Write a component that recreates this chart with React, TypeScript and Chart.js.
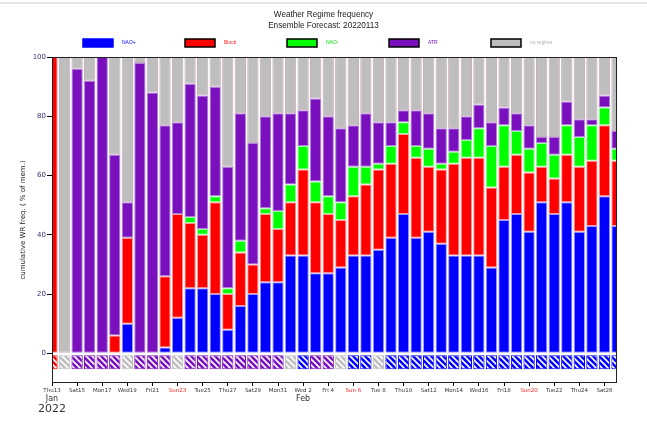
import React, { useEffect, useRef } from 'react';
import { Chart, registerables } from 'chart.js';

Chart.register(...registerables);

const titleLines = ['Weather Regime frequency', 'Ensemble Forecast: 20220113'];
const regimeNames = ['NAO+', 'Block', 'NAO-', 'ATR', 'no regime'];
const regimeColors = ['#0000ff', '#ff0000', '#00ff00', '#7a0fbe', '#bebebe'];
const regimeEdgeColors = ['#9a9aff', '#ff9a9a', '#a0ffa0', '#b080de', '#c9abb9'];
const legendTextColors = ['#0000ff', '#ff2020', '#00dd00', '#7a0fbe', '#b0b0b0'];

const dayLabels = [
  'Thu13', 'Fri14', 'Sat15', 'Sun16', 'Mon17', 'Tue18', 'Wed19', 'Thu20', 'Fri21', 'Sat22',
  'Sun23', 'Mon24', 'Tue25', 'Wed26', 'Thu27', 'Fri28', 'Sat29', 'Sun30', 'Mon31',
  'Tue 1', 'Wed 2', 'Thu 3', 'Fri 4', 'Sat 5', 'Sun 6', 'Mon 7', 'Tue 8', 'Wed 9', 'Thu10',
  'Fri11', 'Sat12', 'Sun13', 'Mon14', 'Tue15', 'Wed16', 'Thu17', 'Fri18', 'Sat19', 'Sun20',
  'Mon21', 'Tue22', 'Wed23', 'Thu24', 'Fri25', 'Sat26', 'Sun27',
];
const xTickLabels = [
  'Thu13', 'Sat15', 'Mon17', 'Wed19', 'Fri21', 'Sun23', 'Tue25', 'Thu27', 'Sat29', 'Mon31',
  'Wed 2', 'Fri 4', 'Sun 6', 'Tue 8', 'Thu10', 'Sat12', 'Mon14', 'Wed16', 'Fri18', 'Sun20',
  'Tue22', 'Thu24', 'Sat26',
];
const monthNames = ['Jan', 'Feb'];
const monthStartDays = [0, 20];
const yearText = '2022';
const yTicks = [0, 20, 40, 60, 80, 100];
const yAxisTitle = 'cumulative WR freq. ( % of mem.)';

// regime frequencies (% of members) per day, Jan 13 .. Feb 27
const naoPlus = [0, 0, 0, 0, 0, 0, 10, 0, 0, 2, 12, 22, 22, 20, 8, 16, 20, 24, 24, 33, 33, 27, 27, 29, 33, 33, 35, 39, 47, 39, 41, 37, 33, 33, 33, 29, 45, 47, 41, 51, 47, 51, 41, 43, 53, 43];
const block = [100, 0, 0, 0, 0, 6, 29, 0, 0, 24, 35, 22, 18, 31, 12, 18, 10, 23, 18, 18, 29, 24, 20, 16, 20, 24, 27, 25, 27, 27, 22, 25, 31, 33, 33, 27, 18, 20, 20, 12, 12, 16, 22, 22, 24, 22];
const naoMinus = [0, 0, 0, 0, 0, 0, 0, 0, 0, 0, 0, 2, 2, 2, 2, 4, 0, 2, 6, 6, 8, 7, 6, 6, 10, 6, 2, 6, 4, 4, 6, 2, 4, 6, 10, 14, 14, 8, 8, 8, 8, 10, 10, 12, 6, 4];
const atr = [0, 0, 96, 92, 100, 61, 12, 98, 88, 51, 31, 45, 45, 37, 41, 43, 41, 31, 33, 24, 12, 28, 27, 25, 14, 18, 14, 8, 4, 12, 12, 12, 8, 8, 8, 8, 6, 6, 8, 2, 6, 8, 6, 2, 4, 6];
const noRegime = [0, 100, 4, 8, 0, 33, 49, 2, 12, 23, 22, 9, 13, 10, 37, 19, 29, 20, 19, 19, 18, 14, 20, 24, 23, 19, 22, 22, 18, 18, 19, 24, 24, 20, 16, 22, 17, 19, 23, 27, 27, 15, 21, 21, 13, 25];
// hatched strip: index into regimeNames
const stripRegime = [1, 4, 3, 3, 3, 3, 4, 3, 3, 3, 4, 3, 3, 3, 3, 3, 3, 3, 3, 4, 0, 3, 3, 4, 0, 0, 4, 0, 0, 0, 0, 0, 0, 0, 0, 0, 0, 0, 0, 0, 0, 0, 0, 0, 0, 0];

const STRIP_TOP = -0.6;
const STRIP_BOTTOM = -5.4;

function makeHatch(color: string): CanvasPattern | string {
  const c = document.createElement('canvas');
  c.width = 6;
  c.height = 6;
  const g = c.getContext('2d');
  if (!g) return color;
  g.fillStyle = color;
  g.fillRect(0, 0, 6, 6);
  g.strokeStyle = '#ffffff';
  g.lineWidth = 1.6;
  g.beginPath();
  g.moveTo(-1, -1); g.lineTo(7, 7);
  g.moveTo(-1, 5); g.lineTo(1, 7);
  g.moveTo(5, -1); g.lineTo(7, 1);
  g.stroke();
  return g.createPattern(c, 'repeat') || color;
}

const decorPlugin = {
  id: 'decor',
  beforeDraw(chart: any) {
    const ctx = chart.ctx;
    ctx.save();
    ctx.fillStyle = '#ffffff';
    ctx.fillRect(0, 0, chart.width, chart.height);
    ctx.fillStyle = '#e6e6e6';
    ctx.fillRect(0, 2, chart.width, 2);
    ctx.restore();
  },
  afterDraw(chart: any) {
    const { ctx, chartArea: a } = chart;
    const xs = chart.scales.x;
    ctx.save();
    // frame
    ctx.strokeStyle = '#222222';
    ctx.lineWidth = 1;
    ctx.strokeRect(Math.round(a.left) + 0.5, Math.round(a.top) + 0.5, Math.round(a.right - a.left) - 1, Math.round(a.bottom - a.top) - 1);
    // title (slightly condensed face)
    ctx.fillStyle = '#222222';
    ctx.textAlign = 'center';
    ctx.textBaseline = 'middle';
    ctx.font = '9.5px "Liberation Sans", Arial, sans-serif';
    for (let k = 0; k < titleLines.length; k++) {
      ctx.save();
      ctx.translate(chart.width / 2, 14 + 11 * k);
      ctx.scale(0.86, 1);
      ctx.fillText(titleLines[k], 0, 0);
      ctx.restore();
    }
    // legend
    for (let i = 0; i < regimeNames.length; i++) {
      const bx = 83 + 102 * i;
      const by = 39;
      ctx.fillStyle = regimeColors[i];
      ctx.fillRect(bx, by, 30, 8);
      ctx.lineWidth = 1.5;
      ctx.strokeStyle = i === 0 ? regimeColors[0] : '#000000';
      ctx.strokeRect(bx, by, 30, 8);
      ctx.fillStyle = legendTextColors[i];
      ctx.textAlign = 'left';
      ctx.font = '5px "Liberation Sans", Arial, sans-serif';
      ctx.fillText(regimeNames[i], bx + 39, by + 4);
    }
    // months and year
    ctx.fillStyle = '#333333';
    ctx.textAlign = 'center';
    ctx.font = '8px "DejaVu Sans", sans-serif';
    for (let k = 0; k < monthNames.length; k++) {
      ctx.fillText(monthNames[k], xs.getPixelForValue(monthStartDays[k]), a.bottom + 16);
    }
    ctx.font = '11px "DejaVu Sans", sans-serif';
    ctx.fillText(yearText, xs.getPixelForValue(0), a.bottom + 26);
    ctx.restore();
  },
};

export default function App() {
  const ref = useRef<HTMLCanvasElement | null>(null);

  useEffect(() => {
    if (!ref.current) return;
    const series = [naoPlus, block, naoMinus, atr, noRegime];
    const datasets: any[] = series.map((vals, k) => ({
      label: regimeNames[k],
      data: vals.map((v, i) => {
        let start = 0;
        for (let j = 0; j < k; j++) start += series[j][i];
        return v > 0 ? { x: i, y: [start, start + v] } : { x: i, y: null };
      }),
      backgroundColor: regimeColors[k],
      borderColor: regimeEdgeColors[k],
      borderWidth: 1,
      borderSkipped: false,
      grouped: false,
      barPercentage: 0.9,
      categoryPercentage: 1,
    }));
    const patterns = regimeColors.map((c) => makeHatch(c));
    datasets.push({
      label: 'strip',
      data: stripRegime.map((_, i) => ({ x: i, y: [STRIP_TOP, STRIP_BOTTOM] })),
      backgroundColor: stripRegime.map((r) => patterns[r]),
      borderColor: stripRegime.map((r) => regimeColors[r]),
      borderWidth: 1,
      borderSkipped: false,
      grouped: false,
      barPercentage: 0.9,
      categoryPercentage: 1,
    });

    const chart = new Chart(ref.current, {
      type: 'bar',
      data: { datasets },
      plugins: [decorPlugin],
      options: {
        responsive: false,
        animation: false,
        devicePixelRatio: 1,
        layout: { padding: { top: 57, right: 30, left: 0, bottom: 0 } },
        plugins: {
          legend: { display: false },
          title: { display: false },
          tooltip: { enabled: false },
        },
        scales: {
          x: {
            type: 'linear',
            min: 0,
            max: 45,
            offset: false,
            afterFit: (s: any) => { s.height = 41; },
            afterBuildTicks: (s: any) => { s.ticks = xTickLabels.map((_, j) => ({ value: j * 2 })); },
            grid: { display: true, drawOnChartArea: false, drawTicks: true, tickLength: 3, color: '#000000', offset: false },
            border: { display: false },
            ticks: {
              autoSkip: false,
              maxRotation: 0,
              padding: 1,
              font: { family: 'DejaVu Sans', size: 5.5 },
              color: (c: any) => (xTickLabels[c.index] && xTickLabels[c.index].startsWith('Sun') ? '#ff2020' : '#333333'),
              callback: (_v: any, i: number) => xTickLabels[i],
            },
          },
          y: {
            type: 'linear',
            min: -10,
            max: 100,
            afterFit: (s: any) => { s.width = 52; },
            afterBuildTicks: (s: any) => { s.ticks = yTicks.map((v) => ({ value: v })); },
            grid: { display: true, drawOnChartArea: false, drawTicks: true, tickLength: 5, color: '#000000' },
            border: { display: false },
            ticks: {
              padding: 1,
              color: '#33337a',
              font: { family: 'DejaVu Sans', size: 7 },
            },
            title: {
              display: true,
              text: yAxisTitle,
              color: '#222222',
              font: { family: 'DejaVu Sans', size: 7 },
              padding: { top: 19, bottom: 0 },
            },
          },
        },
      } as any,
    });
    return () => chart.destroy();
  }, []);

  return (
    <div style={{ position: 'absolute', left: 0, top: 0, width: 647, height: 424 }}>
      <canvas ref={ref} width={647} height={424} style={{ display: 'block' }} />
    </div>
  );
}
